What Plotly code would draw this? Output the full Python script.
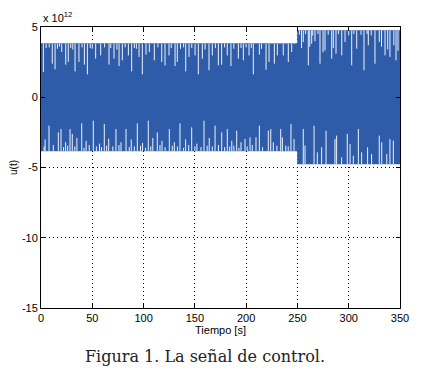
import plotly.graph_objects as go

# ---- data (units of 1e12) ----
seg_t = [0, 250, 350]
seg_amp = [3.82, 4.75]

up_dip_t = [2.3, 11.0, 13.7, 20.2, 24.1, 26.6, 33.2, 37.0, 42.3, 45.2, 53.3, 58.2, 66.3, 71.2,
            76.1, 79.3, 85.2, 88.4, 95.6, 98.8, 102.4, 105.6, 110.5, 117.7, 120.9, 124.8, 130.7,
            132.9, 141.1, 144.3, 150.2, 153.4, 157.3, 163.8, 167.0, 172.9, 176.1, 181.6, 185.2,
            192.4, 197.3, 202.8, 207.0, 212.9, 219.4, 222.3, 227.5, 230.4, 236.2, 241.1, 244.4,
            255.7, 260.6, 263.9, 267.1, 272.0, 276.9, 283.4, 287.6, 293.2, 296.4, 302.9, 307.8,
            314.9, 319.1, 325.6, 329.8, 335.4, 340.2, 346.1,
            5, 8, 16, 18, 29, 31, 40, 48, 50, 62, 68, 74, 82, 91, 93, 114, 127, 136, 139, 147,
            160, 170, 179, 188, 195, 200, 205, 215, 225, 233, 239, 247,
            252, 258, 265, 270, 280, 290, 300, 305, 312, 318, 322, 332, 338, 344, 348,
            254, 262, 275, 285, 298, 310, 327, 342]
up_dip_v = [1.80, 2.39, 1.99, 3.22, 2.32, 2.51, 1.84, 2.51, 2.32, 1.63, 2.75, 2.98, 2.32, 2.75,
            2.22, 2.63, 2.98, 1.84, 2.87, 1.63, 3.03, 3.22, 2.63, 2.51, 2.27, 2.98, 2.22,
            2.51, 1.84, 2.87, 2.98, 1.63, 2.75, 1.92, 2.98, 2.27, 2.32, 2.98, 2.22,
            2.75, 2.63, 2.98, 1.63, 3.03, 1.96, 2.51, 2.39, 2.98, 2.98, 2.51, 3.22,
            3.93, 2.27, 3.81, 3.99, 2.39, 3.34, 2.75, 3.10, 2.98, 3.93, 2.27, 3.46,
            1.92, 3.70, 2.39, 3.93, 2.98, 2.87, 2.63,
            3.5, 3.55, 3.45, 3.6, 3.5, 3.4, 3.55, 3.5, 3.45, 3.55, 3.5, 3.4, 3.55, 3.5, 3.45, 3.55,
            3.5, 3.45, 3.55, 3.5, 3.4, 3.5, 3.55, 3.45, 3.5, 3.55, 3.5, 3.45,
            4.45, 4.5, 4.4, 4.5, 4.45, 4.5, 4.4, 4.5, 4.45, 4.5, 4.4, 4.5, 4.45, 4.5, 4.4,
            3.6, 3.4, 3.7, 3.3, 3.5, 3.6, 3.2, 3.5]

lo_dip_t = [7.8, 16.9, 19.5, 28.3, 30.5, 39.7, 51.0, 61.7, 73.1, 82.9, 93.9, 104.6, 113.4,
            125.1, 135.5, 146.9, 158.9, 169.7, 176.2, 181.6, 190.8,
            4, 24, 35, 44, 57, 66, 78, 88, 99, 109, 118, 130, 141, 152, 164, 186, 195,
            198.9, 203.8, 209.6, 212.9, 221.6, 224.0, 226.5, 233.7, 235.3, 238.6, 243.7, 246.7,
            255.7, 257.4, 266.2, 269.4, 273.6, 277.9, 286.6, 288.2, 293.1, 298.6, 301.3, 304.5,
            309.4, 312.6, 318.4, 322.3, 329.8, 332.2, 337.1, 340.2, 343.5,
            3, 12, 22, 26, 33, 42, 47, 54, 59, 64, 70, 76, 86, 91, 97, 102, 107, 116, 121, 128,
            133, 139, 144, 150, 156, 162, 167, 173, 179, 184, 188, 193, 201, 206, 216, 230, 241]
lo_dip_v = [-2.02, -2.50, -2.26, -2.26, -2.61, -1.86, -1.67, -1.90, -2.26, -2.26, -1.86, -1.67, -2.50,
            -2.26, -1.86, -2.14, -1.67, -2.02, -2.50, -2.26, -2.38,
            -3.0, -3.2, -2.9, -3.1, -3.3, -2.95, -3.2, -3.0, -3.25, -2.9, -3.1, -3.2, -3.0, -3.3, -2.9, -3.1, -3.2,
            -2.97, -2.85, -2.85, -2.02, -2.38, -2.26, -3.21, -2.26, -2.85, -3.44, -1.90, -2.97,
            -2.26, -3.44, -2.02, -3.92, -3.56, -2.38, -2.97, -2.73, -4.28, -2.61, -3.32, -4.16,
            -2.26, -3.92, -3.56, -4.04, -2.73, -3.21, -4.04, -2.97, -3.09,
            -3.5, -3.4, -3.55, -3.45, -3.5, -3.6, -3.4, -3.5, -3.55, -3.45, -3.5, -3.4, -3.55, -3.5, -3.45, -3.6,
            -3.5, -3.4, -3.55, -3.45, -3.5, -3.6, -3.4, -3.5, -3.55, -3.45, -3.5, -3.4, -3.55, -3.5, -3.45, -3.6,
            -3.5, -3.4, -3.55, -3.45, -3.5]

x_ticks = [0, 50, 100, 150, 200, 250, 300, 350]
y_ticks = [-15, -10, -5, 0, 5]

BLUE = "#2F5CA9"
FONT = "Liberation Sans, Arial"


def env(t):
    for i in range(len(seg_amp)):
        if seg_t[i] <= t < seg_t[i + 1]:
            return seg_amp[i]
    return seg_amp[-1]


# band polygon from segment envelopes
bx, by = [], []
for i, a in enumerate(seg_amp):
    bx += [seg_t[i], seg_t[i + 1]]
    by += [a, a]
for i in reversed(range(len(seg_amp))):
    bx += [seg_t[i + 1], seg_t[i]]
    by += [-seg_amp[i], -seg_amp[i]]

fig = go.Figure()
fig.add_trace(go.Scatter(x=bx, y=by, fill="toself", fillcolor=BLUE, mode="lines",
                         line=dict(color=BLUE, width=0.5), hoverinfo="skip"))

ux, uy = [], []
for t, v in zip(up_dip_t, up_dip_v):
    ux += [t, t, None]
    uy += [v, env(t), None]
lx, ly = [], []
for t, v in zip(lo_dip_t, lo_dip_v):
    lx += [t, t, None]
    ly += [v, -env(t), None]
fig.add_trace(go.Scatter(x=ux, y=uy, mode="lines", line=dict(color="rgba(255,255,255,0.92)", width=1),
                         hoverinfo="skip"))
fig.add_trace(go.Scatter(x=lx, y=ly, mode="lines", line=dict(color="rgba(255,255,255,0.92)", width=1),
                         hoverinfo="skip"))

axis_common = dict(showline=True, linecolor="black", linewidth=1, mirror="ticks",
                   ticks="inside", ticklen=4, tickcolor="black", automargin=False,
                   showgrid=True, gridcolor="black", griddash="1px,3px", gridwidth=1,
                   zeroline=False, tickfont=dict(family=FONT, size=11, color="black"))

fig.update_xaxes(range=[0, 350], tickvals=x_ticks, ticktext=[str(v) for v in x_ticks],
                 title=dict(text="Tiempo [s]", font=dict(family=FONT, size=11, color="black"),
                            standoff=1), **axis_common)
fig.update_yaxes(range=[-15, 5], tickvals=y_ticks, ticktext=[str(v) for v in y_ticks],
                 title=dict(text="u(t)", font=dict(family=FONT, size=10, color="black"),
                            standoff=11), **axis_common)

fig.add_annotation(text="x 10<sup>12</sup>", xref="paper", yref="paper", x=0, y=1,
                   xanchor="left", yanchor="bottom", yshift=1, showarrow=False,
                   font=dict(family=FONT, size=11, color="black"))
fig.add_annotation(text="Figura 1. La señal de control.", xref="paper", yref="paper",
                   x=0.458, y=-0.172, xanchor="center", yanchor="middle", showarrow=False,
                   font=dict(family="DejaVu Serif", size=16, color="#222222"))

fig.update_layout(width=413, height=371, margin=dict(l=33, r=21, t=19, b=71),
                  plot_bgcolor="white", paper_bgcolor="white", showlegend=False)
fig.write_html("out.html")
